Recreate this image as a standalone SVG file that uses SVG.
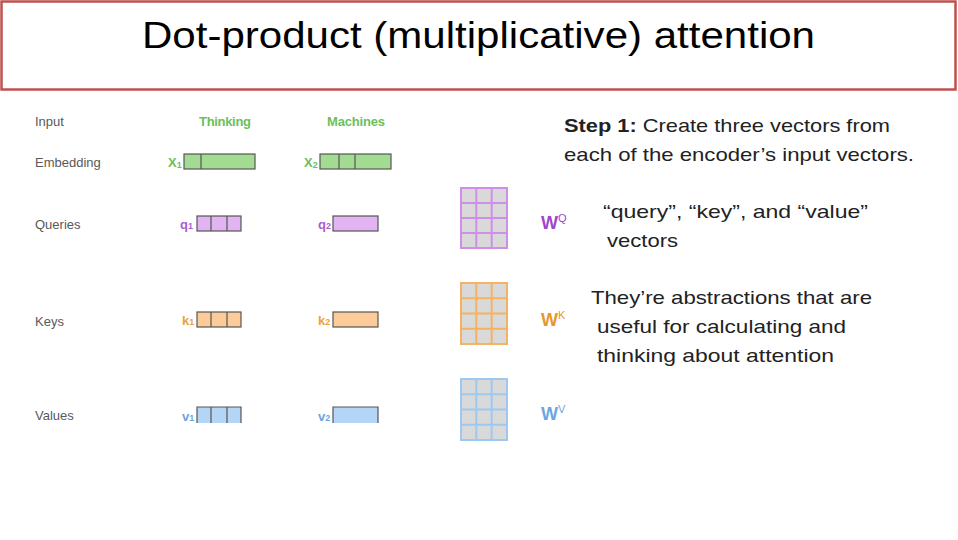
<svg xmlns="http://www.w3.org/2000/svg" width="958" height="540" viewBox="0 0 958 540">
<style>
.lbl{font-family:"Liberation Sans",Arial,sans-serif;font-size:13px;fill:#595959}
.word{font-family:"Liberation Sans",Arial,sans-serif;font-size:13px;font-weight:bold;fill:#6cc05a}
.vl{font-family:"Liberation Sans",Arial,sans-serif;font-size:13px;font-weight:bold}
.wl{font-family:"Liberation Sans",Arial,sans-serif;font-size:18px;font-weight:bold}
.sup{font-size:11px;font-weight:normal}
.sub{font-size:9px}
.cell{stroke:#555;stroke-width:1.2}
.body{font-family:"Liberation Sans",Arial,sans-serif;font-size:19px;fill:#222}
.gq{stroke:#cf8fe8}.gk{stroke:#f5b262}.gv{stroke:#9ec8f0}
</style>
<rect width="958" height="540" fill="#fff"/>
<g id="title">
<rect x="1.5" y="1.5" width="954" height="88" fill="#fff" stroke="#c0504d" stroke-width="2.5"/>
<text x="142" y="48" font-family="'Liberation Sans',Arial,sans-serif" font-size="36" fill="#000" textLength="673" lengthAdjust="spacingAndGlyphs">Dot-product (multiplicative) attention</text>
</g>
<g id="row-labels">
<text class="lbl" x="35" y="126">Input</text>
<text class="lbl" x="35" y="167">Embedding</text>
<text class="lbl" x="35" y="229">Queries</text>
<text class="lbl" x="35" y="326">Keys</text>
<text class="lbl" x="35" y="420">Values</text>
</g>
<g id="input-words">
<text class="word" x="199" y="126" textLength="52">Thinking</text>
<text class="word" x="327" y="126" textLength="58">Machines</text>
</g>
<g id="x1">
<text class="vl" x="168" y="167" fill="#6cc05a">X<tspan class="sub" dy="1">1</tspan></text>
<rect class="cell" x="184" y="154" width="71" height="15" fill="#a3db93"/>
<line class="cell" x1="201" y1="154" x2="201" y2="169"/>
</g>
<g id="x2">
<text class="vl" x="304" y="167" fill="#6cc05a">X<tspan class="sub" dy="1">2</tspan></text>
<rect class="cell" x="320" y="154" width="71" height="15" fill="#a3db93"/>
<line class="cell" x1="339" y1="154" x2="339" y2="169"/>
<line class="cell" x1="355" y1="154" x2="355" y2="169"/>
</g>
<g id="q1">
<text class="vl" x="180" y="229" fill="#a95fd0">q<tspan class="sub">1</tspan></text>
<rect class="cell" x="197" y="216" width="44" height="15" fill="#e2b4f3"/>
<line class="cell" x1="211" y1="216" x2="211" y2="231"/>
<line class="cell" x1="227" y1="216" x2="227" y2="231"/>
</g>
<g id="q2">
<text class="vl" x="318" y="229" fill="#a95fd0">q<tspan class="sub">2</tspan></text>
<rect class="cell" x="333" y="216" width="45" height="15" fill="#e2b4f3"/>
</g>
<g id="k1">
<text class="vl" x="182" y="325" fill="#eaa23a">k<tspan class="sub">1</tspan></text>
<rect class="cell" x="197" y="312" width="44" height="15" fill="#fdcb98"/>
<line class="cell" x1="211" y1="312" x2="211" y2="327"/>
<line class="cell" x1="227" y1="312" x2="227" y2="327"/>
</g>
<g id="k2">
<text class="vl" x="318" y="325" fill="#eaa23a">k<tspan class="sub">2</tspan></text>
<rect class="cell" x="333" y="312" width="45" height="15" fill="#fdcb98"/>
</g>
<g id="v1">
<text class="vl" x="182" y="421" fill="#6fa3db">v<tspan class="sub">1</tspan></text>
<rect x="197" y="407" width="44" height="16" fill="#b5d5f7"/>
<path class="cell" d="M197 423V407H241V423M211 407V423M227 407V423" fill="none"/>
</g>
<g id="v2">
<text class="vl" x="318" y="421" fill="#6fa3db">v<tspan class="sub">2</tspan></text>
<rect x="333" y="407" width="45" height="16" fill="#b5d5f7"/>
<path class="cell" d="M333 423V407H378V423" fill="none"/>
</g>
<g id="wq">
<rect class="gq" x="461" y="188" width="46" height="60" fill="#d9d9d9" stroke-width="2"/>
<path class="gq" d="M476.3 188V248M491.7 188V248M461 203H507M461 218H507M461 233H507" stroke-width="2" fill="none"/>
<text class="wl" x="541" y="229" fill="#a046cc">W<tspan class="sup" dy="-7">Q</tspan></text>
</g>
<g id="wk">
<rect class="gk" x="461" y="283" width="46" height="61" fill="#d9d9d9" stroke-width="2"/>
<path class="gk" d="M476.3 283V344M491.7 283V344M461 298.25H507M461 313.5H507M461 328.75H507" stroke-width="2" fill="none"/>
<text class="wl" x="541" y="326" fill="#e8962e">W<tspan class="sup" dy="-7">K</tspan></text>
</g>
<g id="wv">
<rect class="gv" x="461" y="379" width="46" height="61" fill="#d9d9d9" stroke-width="2"/>
<path class="gv" d="M476.3 379V440M491.7 379V440M461 394.25H507M461 409.5H507M461 424.75H507" stroke-width="2" fill="none"/>
<text class="wl" x="541" y="420" fill="#6aa6e0">W<tspan class="sup" dy="-7">V</tspan></text>
</g>
<g id="step-text">
<text class="body" x="564" y="132" textLength="326" lengthAdjust="spacingAndGlyphs"><tspan font-weight="bold">Step 1:</tspan> Create three vectors from</text>
<text class="body" x="564" y="161" textLength="350" lengthAdjust="spacingAndGlyphs">each of the encoder’s input vectors.</text>
</g>
<g id="qkv-text">
<text class="body" x="603" y="218" textLength="265" lengthAdjust="spacingAndGlyphs">“query”, “key”, and “value”</text>
<text class="body" x="607" y="247" textLength="71" lengthAdjust="spacingAndGlyphs">vectors</text>
</g>
<g id="abstraction-text">
<text class="body" x="591" y="304" textLength="281" lengthAdjust="spacingAndGlyphs">They’re abstractions that are</text>
<text class="body" x="597" y="333" textLength="249" lengthAdjust="spacingAndGlyphs">useful for  calculating and</text>
<text class="body" x="597" y="362" textLength="237" lengthAdjust="spacingAndGlyphs">thinking about attention</text>
</g>
<g id="connectors"/>
</svg>
